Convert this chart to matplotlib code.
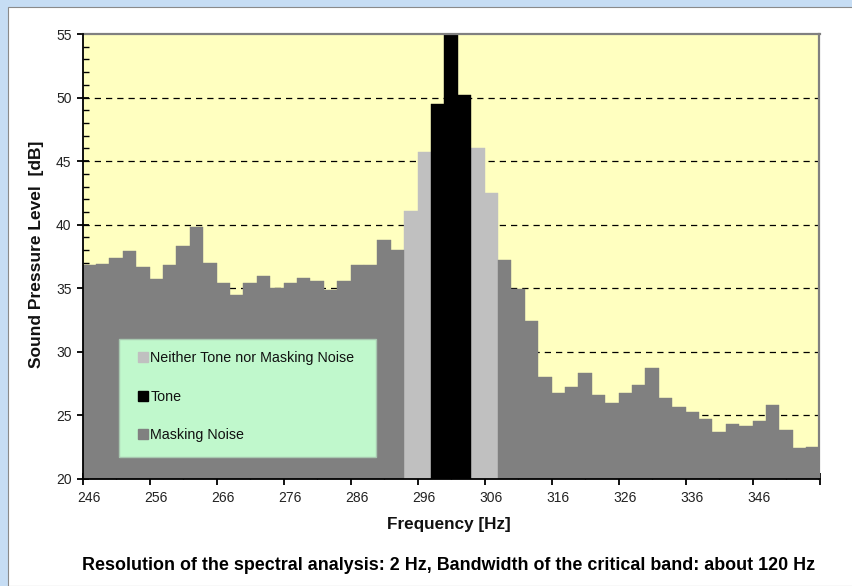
import matplotlib
matplotlib.use("Agg")
import matplotlib.pyplot as plt
from matplotlib.patches import Patch, Rectangle
from matplotlib.ticker import MultipleLocator, FixedLocator
import numpy as np

plt.rcParams['font.family'] = ['Liberation Sans', 'DejaVu Sans']

# ---- data ----
frequency = list(range(246, 356, 2))
level = [36.8, 36.9, 37.4, 37.9, 36.7, 35.7, 36.8, 38.3, 39.8, 37.0,
         35.4, 34.5, 35.4, 36.0, 35.0, 35.4, 35.8, 35.6, 34.9, 35.6,
         36.8, 36.8, 38.8, 38.0, 41.1, 45.75, 49.5, 55.5, 50.2, 46.0,
         42.5, 37.2, 34.95, 32.45, 28.0, 26.8, 27.2, 28.3, 26.6, 26.0,
         26.8, 27.4, 28.7, 26.35, 25.7, 25.3, 24.7, 23.7, 24.3, 24.2,
         24.6, 25.8, 23.85, 22.4, 22.55]
component = (["Masking Noise"] * 24 + ["Neither Tone nor Masking Noise"] * 2 +
             ["Tone"] * 3 + ["Neither Tone nor Masking Noise"] * 2 +
             ["Masking Noise"] * 24)
legend_order = ["Neither Tone nor Masking Noise", "Tone", "Masking Noise"]
colors = {"Masking Noise": "#808080",
          "Neither Tone nor Masking Noise": "#c0c0c0",
          "Tone": "#000000"}
label_ticks = list(range(246, 356, 10))

W, H = 853, 586
fig = plt.figure(figsize=(W / 100, H / 100), dpi=100)
fig.patch.set_facecolor("#c6ddf4")
# white panel
fig.patches.append(Rectangle((8 / W, 0), 1 - 8 / W, 1 - 7 / H, transform=fig.transFigure,
                             facecolor="white", edgecolor="#8a8a8a", linewidth=0.8, zorder=-5))

L, R, T, B = 82.7, 819.5, 34, 479
ax = fig.add_axes([L / W, 1 - B / H, (R - L) / W, (B - T) / H])
ax.set_zorder(2)
ax.set_facecolor("#ffffc0")

f = np.array(frequency)
lv = np.array(level)
comp = np.array(component)
for name in legend_order:
    m = comp == name
    ax.bar(f[m], lv[m] - 20, bottom=20, width=2.0, color=colors[name],
           edgecolor=colors[name], linewidth=0.3, align="center", zorder=2)

ax.set_xlim(245, 355)
ax.set_ylim(20, 55)

# grid
for yv in range(25, 55, 5):
    ax.axhline(yv, color="black", linestyle=(0, (5, 4)), linewidth=0.9, zorder=1)

# spines
for s in ["top", "right"]:
    ax.spines[s].set_color("#808080")
    ax.spines[s].set_linewidth(1.6)
for s in ["left", "bottom"]:
    ax.spines[s].set_color("black")
    ax.spines[s].set_linewidth(1.3)
    ax.spines[s].set_zorder(5)

# y ticks
ax.yaxis.set_major_locator(MultipleLocator(5))
ax.yaxis.set_minor_locator(MultipleLocator(1))
ax.tick_params(axis="y", which="major", direction="inout", length=8, width=1.3,
               labelsize=10, pad=4, colors="black", labelcolor="#222222")
ax.tick_params(axis="y", which="minor", direction="in", length=4, width=1.0)

# x ticks: major at category edges every 10 Hz, minor halfway; labels at bar centres
ax.xaxis.set_major_locator(FixedLocator(list(range(245, 356, 10))))
ax.xaxis.set_minor_locator(FixedLocator(list(range(250, 356, 10))))
ax.tick_params(axis="x", which="major", direction="inout", length=8, width=1.3, labelbottom=False)
ax.tick_params(axis="x", which="minor", direction="in", length=4, width=1.0)
for t in label_ticks:
    ax.annotate(str(t), xy=(t, 20), xycoords="data", xytext=(0, -14),
                textcoords="offset points", ha="center", va="center",
                fontsize=10, color="#222222")

# legend box
lx0, lx1, ly0, ly1 = 119.3, 375.7, 339.3, 456.7
ax.add_patch(Rectangle(((lx0 - L) / (R - L), (B - ly1) / (B - T)),
                       (lx1 - lx0) / (R - L), (ly1 - ly0) / (B - T),
                       transform=ax.transAxes, facecolor="#c0f8cc",
                       edgecolor="#a8c8b0", linewidth=1.0, zorder=6))
handles = [Patch(facecolor=colors[n], edgecolor=colors[n]) for n in legend_order]
leg = ax.legend(handles, legend_order, loc="upper left",
                bbox_to_anchor=((138 - L) / (R - L), (B - 351) / (B - T)),
                frameon=False, fontsize=10.3, handlelength=0.72, handleheight=0.72,
                handletextpad=0.15, labelspacing=1.72, borderaxespad=0,
                borderpad=0)
leg.set_zorder(7)
for txt in leg.get_texts():
    txt.set_color("#111111")

fig.text(37 / W, 1 - 254 / H, "Sound Pressure Level  [dB]", rotation=90,
         ha="center", va="center", fontsize=12.5, fontweight="bold", color="#111111")
fig.text(449 / W, 1 - 524 / H, "Frequency [Hz]", ha="center", va="center",
         fontsize=12.3, fontweight="bold", color="#111111")
fig.text(449 / W, 1 - 565 / H,
         "Resolution of the spectral analysis: 2 Hz, Bandwidth of the critical band: about 120 Hz",
         ha="center", va="center", fontsize=12.9, fontweight="bold", color="black")

fig.savefig("out.png", dpi=100, facecolor=fig.get_facecolor())
